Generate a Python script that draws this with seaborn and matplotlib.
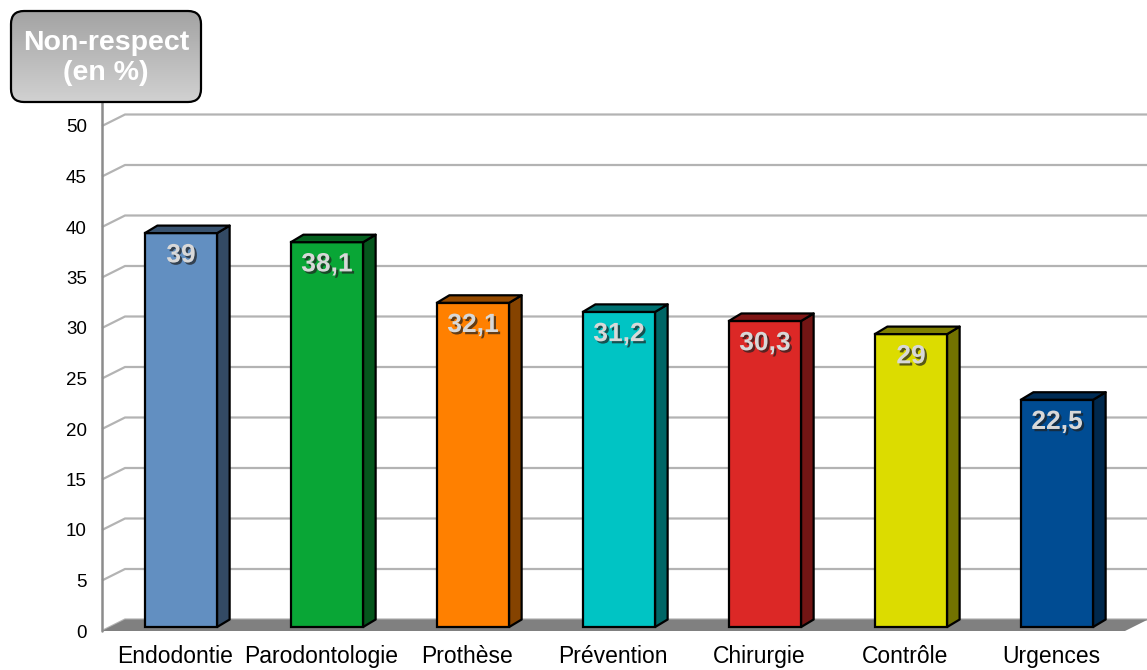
import numpy as np
import matplotlib
matplotlib.use("Agg")
import matplotlib.pyplot as plt
import matplotlib.patheffects as pe
from matplotlib.patches import Polygon, FancyBboxPatch
from matplotlib.transforms import IdentityTransform, ScaledTranslation
import seaborn as sns

# ---- data -------------------------------------------------------------
categories = ["Endodontie", "Parodontologie", "Prothèse", "Prévention",
              "Chirurgie", "Contrôle", "Urgences"]
values = [39, 38.1, 32.1, 31.2, 30.3, 29, 22.5]
bar_colors = ["#628fc1", "#09a636", "#ff8000", "#00c4c4",
              "#dc2826", "#dcdc00", "#004c93"]
y_ticks = [0, 5, 10, 15, 20, 25, 30, 35, 40, 45, 50]
axis_title = "Non-respect\n(en %)"

sns.set_theme(style="white")
plt.rcParams["font.family"] = ["Liberation Sans", "DejaVu Sans"]

W, H = 1147, 670
fig = plt.figure(figsize=(W / 100, H / 100), dpi=100)

# front plane of the 3D box (pixel-based layout)
x_left_px, x_right_px = 102, 1125
y_zero_px, y_top_px = 631, 126
first_center_px, step_px = 181, 146
ax = fig.add_axes([x_left_px / W, (H - y_zero_px) / H,
                   (x_right_px - x_left_px) / W, (y_zero_px - y_top_px) / H])
xmin = (x_left_px - first_center_px) / step_px
xmax = (x_right_px - first_center_px) / step_px
px_per_unit = (y_zero_px - y_top_px) / 50.0

# depth offsets (data units)
wall_dx, wall_dy = 23 / step_px, 11.5 / px_per_unit
bar_dx, bar_dy = 12.5 / step_px, 7.5 / px_per_unit
bar_base = 4 / px_per_unit
fig_right = (W - first_center_px) / step_px

# bars (front faces)
sns.barplot(x=categories, y=values, hue=categories, palette=bar_colors,
            legend=False, width=0.495, saturation=1, edgecolor="black",
            linewidth=1.6, ax=ax, zorder=4)
ax.set_xlim(xmin, xmax)
ax.set_ylim(0, 50)

# gridlines on the back wall with slanted connectors to the axis
grid_col = "#b3b3b3"
for v in y_ticks:
    ax.plot([xmin, xmin + wall_dx, fig_right], [v, v + wall_dy, v + wall_dy],
            color=grid_col, lw=1.6, clip_on=False, zorder=1,
            solid_capstyle="butt")

# floor
floor = Polygon([(xmin, 0), (xmax, 0), (xmax + wall_dx, wall_dy),
                 (xmin + wall_dx, wall_dy)], closed=True,
                facecolor="#808080", edgecolor="none", clip_on=False, zorder=2)
ax.add_patch(floor)

# vertical axis line
ax.plot([xmin, xmin], [0, (y_zero_px - 102) / px_per_unit], color="#8c8c8c",
        lw=1.8, clip_on=False, zorder=3)


def shade(c, f):
    r, g, b = matplotlib.colors.to_rgb(c)
    return (r * f, g * f, b * f)


bars = list(ax.patches)[:len(values)]
for bar, val, col in zip(bars, values, bar_colors):
    bar.set_y(bar_base)
    x0 = bar.get_x()
    x1 = x0 + bar.get_width()
    top = bar_base + val
    side = Polygon([(x1, bar_base), (x1 + bar_dx, bar_base + bar_dy),
                    (x1 + bar_dx, top + bar_dy), (x1, top)], closed=True,
                   facecolor=shade(col, 0.52), edgecolor="black", lw=1.6,
                   zorder=4, joinstyle="round")
    cap = Polygon([(x0, top), (x1, top), (x1 + bar_dx, top + bar_dy),
                   (x0 + bar_dx, top + bar_dy)], closed=True,
                  facecolor=shade(col, 0.58), edgecolor="black", lw=1.6,
                  zorder=4, joinstyle="round")
    ax.add_patch(side)
    ax.add_patch(cap)
    label = f"{val:g}".replace(".", ",")
    ax.annotate(label, (x0 + bar.get_width() / 2, top), xytext=(0, -16),
                textcoords="offset points", ha="center", va="center",
                fontsize=19, fontweight="bold", color="#d8d8d8", zorder=6,
                path_effects=[pe.SimplePatchShadow(offset=(1.6, -1.6),
                                                   shadow_rgbFace="#202020",
                                                   alpha=0.7),
                              pe.Normal()])

# axes styling
for s in ax.spines.values():
    s.set_visible(False)
ax.set_yticks(y_ticks)
ax.set_yticklabels([str(t) for t in y_ticks], fontsize=13.5, color="black")
ax.tick_params(axis="y", length=0, pad=11)
ax.tick_params(axis="x", length=0, pad=10, labelsize=16.5, labelcolor="black")
# category names sit on the front edge, slightly left of the bar centres
shift = ScaledTranslation(-0.06, 0, fig.dpi_scale_trans)
for lab in ax.get_xticklabels():
    lab.set_transform(lab.get_transform() + shift)
ax.set_xlabel("")
ax.set_ylabel("")
ax.grid(False)
ax.set_facecolor("none")

# title box with gradient
bx, by, bw, bh = 11, H - 102, 190, 91
box = FancyBboxPatch((bx, by), bw, bh, boxstyle="round,pad=0,rounding_size=13",
                     transform=IdentityTransform(), facecolor="none",
                     edgecolor="black", lw=1.6, zorder=10)
grad = np.linspace(0.64, 0.82, bh)[:, None] * np.ones((1, bw))
grad_img = np.dstack([grad, grad, grad])
im = fig.figimage(grad_img, xo=bx, yo=by, origin="upper", zorder=9)
im.set_clip_path(box)
fig.patches.append(box)
fig.text((bx + bw / 2) / W, (H - 58) / H, axis_title, ha="center",
         va="center", fontsize=20.5, fontweight="bold", color="white",
         linespacing=1.15, zorder=11)

fig.savefig("out.png", dpi=100)
